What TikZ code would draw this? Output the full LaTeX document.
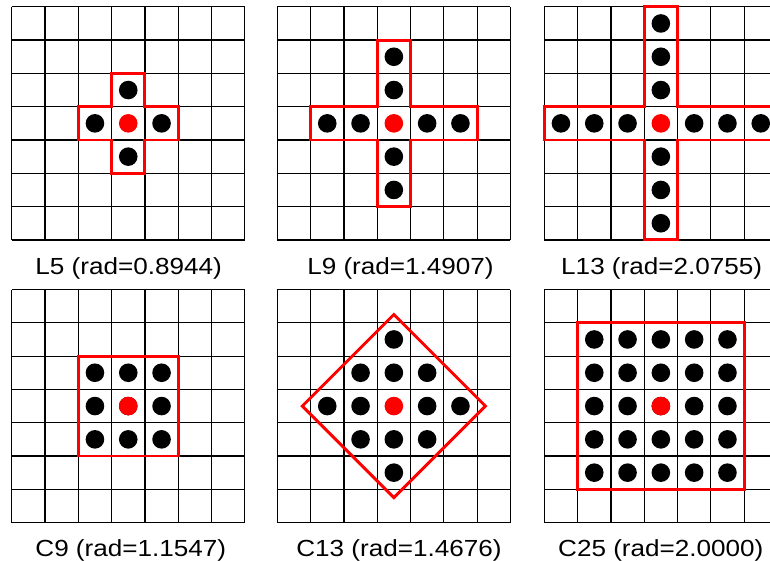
\documentclass[tikz,border=0pt]{standalone}
\usepackage{fontspec}
\setmainfont{Liberation Sans}[FakeStretch=1.12]
\tikzset{
  rejilla/.style={line width=1.2pt},
  borde/.style={red, line width=2.9pt, line join=miter},
  etiqueta/.style={anchor=base, inner sep=0pt, font=\fontsize{23.3}{28}\selectfont},
}
\newcommand{\radpunto}{9.3pt}
\newcommand{\rejilla}{%
  \foreach \k in {0,...,7} {
    \draw[rejilla] (\k,0) -- (\k,7);
    \draw[rejilla] (0,\k) -- (7,\k);
  }}
\begin{document}
\begin{tikzpicture}[x=1pt,y=-1pt]
		\useasboundingbox (0,0) rectangle (770,561);
		
		% Panel L5
		\begin{scope}[shift={(11.7,6.8)}, x=33.3pt, y=-33.3pt]
			\rejilla
			\foreach \k in {1} {
				\fill (3.5-\k,3.5) circle[radius=\radpunto];
				\fill (3.5+\k,3.5) circle[radius=\radpunto];
				\fill (3.5,3.5-\k) circle[radius=\radpunto];
				\fill (3.5,3.5+\k) circle[radius=\radpunto];
			}
			\fill[red] (3.5,3.5) circle[radius=\radpunto];
			\draw[borde] (3,2) -- (4,2) -- (4,3) -- (5,3) -- (5,4) -- (4,4) -- (4,5)
				-- (3,5) -- (3,4) -- (2,4) -- (2,3) -- (3,3) -- cycle;
		\end{scope}
		
		% Panel L9
		\begin{scope}[shift={(277.3,6.8)}, x=33.3pt, y=-33.3pt]
			\rejilla
			\foreach \k in {1,2} {
				\fill (3.5-\k,3.5) circle[radius=\radpunto];
				\fill (3.5+\k,3.5) circle[radius=\radpunto];
				\fill (3.5,3.5-\k) circle[radius=\radpunto];
				\fill (3.5,3.5+\k) circle[radius=\radpunto];
			}
			\fill[red] (3.5,3.5) circle[radius=\radpunto];
			\draw[borde] (3,1) -- (4,1) -- (4,3) -- (6,3) -- (6,4) -- (4,4) -- (4,6)
				-- (3,6) -- (3,4) -- (1,4) -- (1,3) -- (3,3) -- cycle;
		\end{scope}
		
		% Panel L13
		\begin{scope}[shift={(544.3,6.8)}, x=33.3pt, y=-33.3pt]
			\rejilla
			\foreach \k in {1,2,3} {
				\fill (3.5-\k,3.5) circle[radius=\radpunto];
				\fill (3.5+\k,3.5) circle[radius=\radpunto];
				\fill (3.5,3.5-\k) circle[radius=\radpunto];
				\fill (3.5,3.5+\k) circle[radius=\radpunto];
			}
			\fill[red] (3.5,3.5) circle[radius=\radpunto];
			\draw[borde] (3,0) -- (4,0) -- (4,3) -- (7,3) -- (7,4) -- (4,4) -- (4,7)
				-- (3,7) -- (3,4) -- (0,4) -- (0,3) -- (3,3) -- cycle;
		\end{scope}
		
		% Panel C9
		\begin{scope}[shift={(11.7,289.5)}, x=33.3pt, y=-33.3pt]
			\rejilla
			\foreach \i in {2,3,4}
				\foreach \j in {2,3,4}
					\fill (\i+.5,\j+.5) circle[radius=\radpunto];
			\fill[red] (3.5,3.5) circle[radius=\radpunto];
			\draw[borde] (2,2) rectangle (5,5);
		\end{scope}
		
		% Panel C13
		\begin{scope}[shift={(277.3,289.5)}, x=33.3pt, y=-33.3pt]
			\rejilla
			\foreach \i/\j in {3/1, 2/2,3/2,4/2, 1/3,2/3,4/3,5/3, 2/4,3/4,4/4, 3/5}
				\fill (\i+.5,\j+.5) circle[radius=\radpunto];
			\fill[red] (3.5,3.5) circle[radius=\radpunto];
			\draw[borde] (3.5,0.75) -- (6.25,3.5) -- (3.5,6.25) -- (0.75,3.5) -- cycle;
		\end{scope}
		
		% Panel C25
		\begin{scope}[shift={(544.3,289.5)}, x=33.3pt, y=-33.3pt]
			\rejilla
			\foreach \i in {1,...,5}
				\foreach \j in {1,...,5}
					\fill (\i+.5,\j+.5) circle[radius=\radpunto];
			\fill[red] (3.5,3.5) circle[radius=\radpunto];
			\draw[borde] (1,1) rectangle (6,6);
		\end{scope}
		
		% Etiquetas
		\node[etiqueta] (lblL5) at (128.7,274.3) {L5 (rad=0.8944)};
		\node[etiqueta] (lblL9) at (400.5,274.3) {L9 (rad=1.4907)};
		\node[etiqueta] (lblL13) at (661.7,274.3) {L13 (rad=2.0755)};
		\node[etiqueta] (lblC9) at (130.8,556) {C9 (rad=1.1547)};
		\node[etiqueta] (lblC13) at (399,556) {C13 (rad=1.4676)};
		\node[etiqueta] (lblC25) at (660.8,556) {C25 (rad=2.0000)};
		
	\end{tikzpicture}
\end{document}
